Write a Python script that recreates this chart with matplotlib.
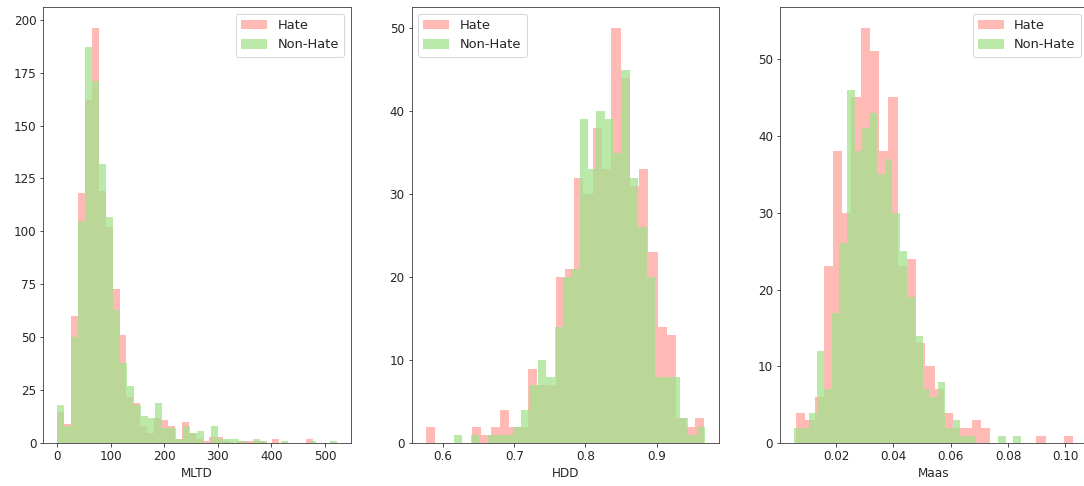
import numpy as np
import matplotlib
matplotlib.use('Agg')
import matplotlib.pyplot as plt

# bin counts, one list per series and panel
# each series has its own bin range (lo, hi) and bin count
mltd_hate = [15, 9, 60, 118, 162, 196, 119, 102, 73, 51, 22, 19, 8, 5, 12, 11, 8, 2,
             10, 5, 2, 1, 3, 3, 1, 0, 1, 1, 1, 1, 0, 2, 0, 0, 0, 0, 2]
mltd_hate_range = (0.0, 478.0)
mltd_non = [18, 8, 50, 105, 187, 171, 132, 107, 63, 38, 27, 18, 13, 12, 19, 7, 7, 2,
            8, 5, 6, 0, 8, 2, 2, 2, 1, 0, 2, 1, 0, 0, 1, 0, 0, 0, 1, 0, 0, 1]
mltd_non_range = (0.0, 522.0)

hdd_hate = [2, 0, 0, 0, 0, 2, 1, 2, 4, 2, 2, 9, 7, 7, 20, 21, 32, 30, 38, 33,
            50, 44, 31, 33, 23, 14, 13, 3, 2, 3]
hdd_hate_range = (0.5756, 0.9666)
hdd_non = [1, 0, 1, 0, 1, 1, 1, 2, 4, 7, 10, 8, 14, 20, 21, 39, 33, 40, 39, 35,
           45, 32, 26, 20, 8, 8, 8, 3, 1, 2]
hdd_non_range = (0.6155, 0.9680)

maas_hate = [4, 3, 6, 23, 38, 30, 45, 54, 51, 38, 45, 23, 24, 13, 10, 7, 4, 2, 2, 3,
             2, 0, 0, 0, 0, 0, 1, 0, 0, 1]
maas_hate_range = (0.00599, 0.1028)
maas_non = [2, 2, 4, 12, 7, 17, 26, 46, 38, 41, 43, 35, 37, 30, 25, 19, 14, 7, 6, 8,
            2, 3, 1, 1, 0, 0, 0, 1, 0, 1]
maas_non_range = (0.00528, 0.0845)

panels = [
    ("MLTD", mltd_hate, mltd_hate_range, mltd_non, mltd_non_range, "upper right",
     [0, 100, 200, 300, 400, 500], [0, 25, 50, 75, 100, 125, 150, 175, 200]),
    ("HDD", hdd_hate, hdd_hate_range, hdd_non, hdd_non_range, "upper left",
     [0.6, 0.7, 0.8, 0.9], [0, 10, 20, 30, 40, 50]),
    ("Maas", maas_hate, maas_hate_range, maas_non, maas_non_range, "upper right",
     [0.02, 0.04, 0.06, 0.08, 0.10], [0, 10, 20, 30, 40, 50]),
]

HATE_COLOR = (1.0, 0.467, 0.435)
NON_COLOR = (0.643, 0.886, 0.557)
INK = "0.15"

plt.rcParams.update({
    "font.size": 12,
    "legend.fontsize": 13,
    "text.color": INK,
    "axes.labelcolor": INK,
    "xtick.color": INK,
    "ytick.color": INK,
    "axes.edgecolor": "0.2",
})

W, H = 1084, 486
fig = plt.figure(figsize=(W / 72, H / 72), dpi=72)
lefts = [43.3, 411.7, 780.0]
ax_w, ax_b, ax_t = 307.4, 443.3, 7.3

for left, (name, hate, hr, non, nr, loc, xt, yt) in zip(lefts, panels):
    ax = fig.add_axes([left / W, (H - ax_b) / H, ax_w / W, (ax_b - ax_t) / H])
    he = np.linspace(hr[0], hr[1], len(hate) + 1)
    ne = np.linspace(nr[0], nr[1], len(non) + 1)
    ax.hist(he[:-1], bins=he, weights=hate, color=HATE_COLOR, alpha=0.5, label="Hate")
    ax.hist(ne[:-1], bins=ne, weights=non, color=NON_COLOR, alpha=0.75, label="Non-Hate")
    ax.set_xticks(xt)
    ax.set_yticks(yt)
    ax.set_xlabel(name)
    ax.legend(loc=loc)

fig.savefig("out.png", dpi=72)
